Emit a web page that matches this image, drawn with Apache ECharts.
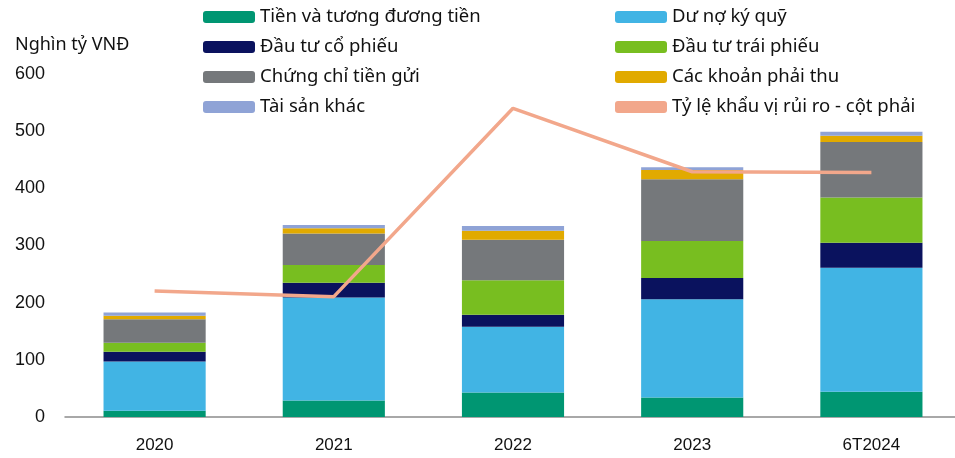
<!DOCTYPE html>
<html>
<head>
<meta charset="utf-8">
<script src="https://cdn.jsdelivr.net/npm/echarts@6/dist/echarts.min.js"></script>
<style>
  html, body { margin: 0; padding: 0; background: #fff; overflow: hidden; }
  #chart { width: 965px; height: 458px; }
</style>
</head>
<body>
<div id="chart"></div>
<script>
var categories = ['2020', '2021', '2022', '2023', '6T2024'];
var tienVaTuongDuong = [11, 29, 43, 34, 44];
var duNoKyQuy = [86, 180, 115, 172, 217];
var dauTuCoPhieu = [17, 26, 21, 37, 44];
var dauTuTraiPhieu = [16, 31, 60, 65, 79];
var chungChiTienGui = [41, 55, 71, 108, 97];
var cacKhoanPhaiThu = [6, 9, 16, 16, 11];
var taiSanKhac = [6, 6, 8, 5, 7];
var tyLeKhauViRuiRo = [44.1, 42.1, 108, 85.8, 85.5];
var yTicks = [0, 100, 200, 300, 400, 500, 600];

var legendFont = { fontFamily: 'Noto Sans', fontSize: 18.5, color: '#111', lineHeight: 20 };

function bar(name, data, color) {
  return {
    name: name, type: 'bar', stack: 'total', data: data, barWidth: '57%',
    itemStyle: { color: color }
  };
}

// the plot runs a little past the right edge of the 955px window, as in the source
var chart = echarts.init(document.getElementById('chart'));
chart.setOption({
  animation: false,
  grid: { left: 65, width: 896, top: 74, bottom: 41 },
  legend: [
    {
      left: 203, top: 7, padding: 0, orient: 'vertical', itemWidth: 52, itemHeight: 12, itemGap: 10,
      textStyle: legendFont,
      data: ['Tiền và tương đương tiền', 'Đầu tư cổ phiếu', 'Chứng chỉ tiền gửi', 'Tài sản khác']
    },
    {
      left: 615, top: 7, padding: 0, orient: 'vertical', itemWidth: 52, itemHeight: 12, itemGap: 10,
      textStyle: legendFont,
      data: [
        { name: 'Dư nợ ký quỹ' },
        { name: 'Đầu tư trái phiếu' },
        { name: 'Các khoản phải thu' },
        { name: 'Tỷ lệ khẩu vị rủi ro - cột phải', icon: 'roundRect', itemStyle: { color: '#F2A78B' } }
      ]
    }
  ],
  xAxis: {
    type: 'category', data: categories,
    axisTick: { show: false },
    axisLine: { lineStyle: { color: '#8c8c8c', width: 1.5 } },
    axisLabel: { fontFamily: 'Liberation Sans', fontSize: 17, color: '#111', margin: 20 }
  },
  yAxis: [
    {
      type: 'value', min: yTicks[0], max: yTicks[yTicks.length - 1], interval: 100,
      name: 'Nghìn tỷ VNĐ', nameLocation: 'end', nameGap: 20,
      nameTextStyle: { fontFamily: 'Noto Sans', fontSize: 18, color: '#111', align: 'left', padding: [0, 0, 0, -50] },
      axisLine: { show: false }, axisTick: { show: false }, splitLine: { show: false },
      axisLabel: { fontFamily: 'Liberation Sans', fontSize: 18, color: '#111', margin: 20 }
    },
    {
      type: 'value', min: 0, max: 120, show: false, splitLine: { show: false }
    }
  ],
  series: [
    bar('Tiền và tương đương tiền', tienVaTuongDuong, '#009672'),
    bar('Dư nợ ký quỹ', duNoKyQuy, '#41B4E4'),
    bar('Đầu tư cổ phiếu', dauTuCoPhieu, '#0A125E'),
    bar('Đầu tư trái phiếu', dauTuTraiPhieu, '#78BE20'),
    bar('Chứng chỉ tiền gửi', chungChiTienGui, '#75787B'),
    bar('Các khoản phải thu', cacKhoanPhaiThu, '#E1AA00'),
    bar('Tài sản khác', taiSanKhac, '#8FA3D6'),
    {
      name: 'Tỷ lệ khẩu vị rủi ro - cột phải', type: 'line', yAxisIndex: 1,
      data: tyLeKhauViRuiRo, symbol: 'none',
      lineStyle: { color: '#F2A78B', width: 3.5 }, itemStyle: { color: '#F2A78B' }
    }
  ]
});
</script>
</body>
</html>
